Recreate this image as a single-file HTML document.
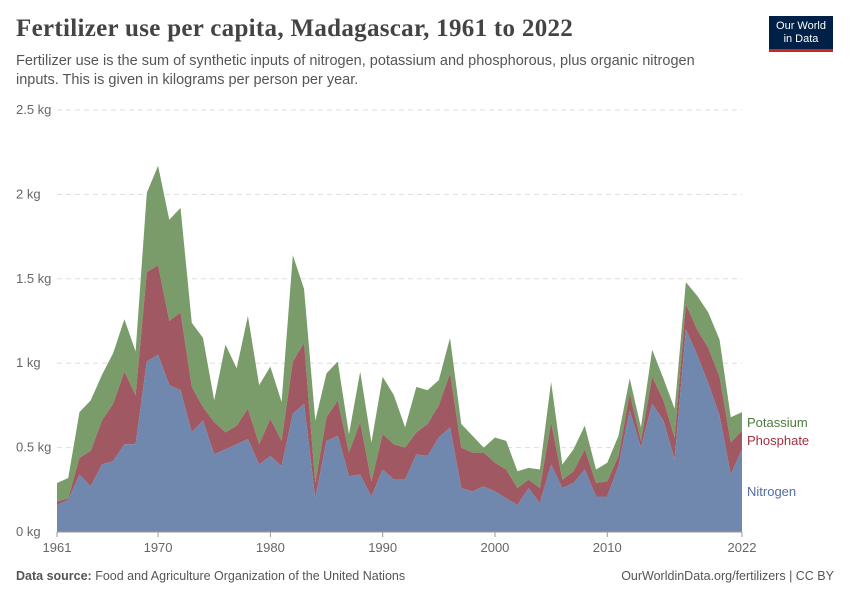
<!DOCTYPE html>
<html><head><meta charset="utf-8"><style>
body{margin:0;background:#fff;font-family:"Liberation Sans",sans-serif;}
#wrap{position:relative;width:850px;height:600px;overflow:hidden;}
h1{position:absolute;left:16px;top:15px;margin:0;font:700 25px "Liberation Serif",serif;color:#444;letter-spacing:0.3px;}
.sub{position:absolute;left:16px;top:52px;font-size:14.5px;line-height:19px;color:#555;width:720px;}
.logo{position:absolute;left:769px;top:16px;width:64px;height:36px;background:#002147;color:#fff;font-size:11px;line-height:13px;text-align:center;padding-top:4px;box-sizing:border-box;border-bottom:3px solid #ce261e;}
.foot{position:absolute;top:569px;font-size:12.5px;color:#555;}
</style></head><body><div id="wrap">
<h1>Fertilizer use per capita, Madagascar, 1961 to 2022</h1>
<div class="sub">Fertilizer use is the sum of synthetic inputs of nitrogen, potassium and phosphorous, plus organic nitrogen inputs. This is given in kilograms per person per year.</div>
<div class="logo">Our World<br>in Data</div>
<svg id="chart" width="850" height="600" style="position:absolute;left:0;top:0"></svg>
<div class="foot" style="left:16px"><b>Data source:</b> Food and Agriculture Organization of the United Nations</div>
<div class="foot" style="right:16px">OurWorldinData.org/fertilizers | CC BY</div>
</div>
<script>
const years=[];for(let y=1961;y<=2022;y++)years.push(y);
const nitrogen=[0.16,0.19,0.34,0.27,0.40,0.42,0.52,0.52,1.01,1.05,0.87,0.84,0.59,0.66,0.46,0.49,0.52,0.55,0.40,0.45,0.39,0.70,0.76,0.20,0.54,0.57,0.33,0.34,0.21,0.37,0.31,0.31,0.46,0.45,0.56,0.62,0.26,0.24,0.27,0.24,0.20,0.16,0.26,0.17,0.40,0.26,0.29,0.37,0.21,0.21,0.39,0.72,0.50,0.76,0.66,0.43,1.20,1.05,0.88,0.69,0.34,0.49];
const phosphate=[0.02,0.01,0.10,0.21,0.26,0.34,0.43,0.29,0.53,0.53,0.38,0.46,0.27,0.08,0.19,0.10,0.11,0.18,0.12,0.22,0.15,0.31,0.36,0.09,0.14,0.21,0.14,0.31,0.09,0.21,0.21,0.19,0.13,0.19,0.19,0.32,0.24,0.23,0.20,0.17,0.17,0.10,0.05,0.09,0.25,0.05,0.07,0.12,0.08,0.09,0.06,0.10,0.04,0.16,0.12,0.13,0.15,0.15,0.21,0.23,0.19,0.11];
const potassium=[0.11,0.12,0.27,0.30,0.27,0.30,0.31,0.26,0.47,0.59,0.60,0.62,0.38,0.41,0.13,0.52,0.34,0.55,0.35,0.31,0.23,0.63,0.32,0.37,0.26,0.23,0.11,0.30,0.23,0.34,0.29,0.12,0.27,0.20,0.15,0.21,0.14,0.10,0.03,0.15,0.17,0.10,0.07,0.11,0.24,0.09,0.13,0.14,0.08,0.11,0.12,0.09,0.08,0.16,0.13,0.17,0.13,0.20,0.21,0.22,0.15,0.11];
const yTicks=[0,0.5,1,1.5,2,2.5];
const yTickLabels=["0 kg","0.5 kg","1 kg","1.5 kg","2 kg","2.5 kg"];
const xTicks=[1961,1970,1980,1990,2000,2010,2022];
const X0=57,X1=742,Y0=532,Y1=110;
const xs=y=>X0+(y-1961)/(2022-1961)*(X1-X0);
const ys=v=>Y0-v/2.5*(Y0-Y1);
const svg=document.getElementById('chart');const NS='http://www.w3.org/2000/svg';
function mk(t,a){const e=document.createElementNS(NS,t);for(const k in a)e.setAttribute(k,a[k]);svg.appendChild(e);return e;}
yTicks.forEach((v,i)=>{
 if(v>0){const l=mk('line',{x1:X0,x2:X1,y1:ys(v),y2:ys(v),stroke:'#ddd','stroke-dasharray':'5,4'});
 
 }
 const t=mk('text',{x:16,y:ys(v)+4,'font-size':13,fill:'#666','font-family':'Liberation Sans'});t.textContent=yTickLabels[i];
 
 
});
const c1=nitrogen,c2=nitrogen.map((v,i)=>v+phosphate[i]),c3=c2.map((v,i)=>v+potassium[i]);
function area(top,bot,fill,name){
 let d='M'+years.map((y,i)=>xs(y)+','+ys(top[i])).join('L');
 for(let i=years.length-1;i>=0;i--)d+='L'+xs(years[i])+','+ys(bot?bot[i]:0);
 const p=mk('path',{d:d+'Z',fill:fill});
 
 
}
area(c3,c2,'#7a9c6b','area-potassium');
area(c2,c1,'#a05962','area-phosphate');
area(c1,null,'#7087ae','area-nitrogen');
const ax=mk('line',{x1:X0,x2:X1,y1:Y0,y2:Y0,stroke:'#999'});


xTicks.forEach(y=>{
 const l=mk('line',{x1:xs(y),x2:xs(y),y1:Y0,y2:Y0+5,stroke:'#999'});
 
 
 const t=mk('text',{x:xs(y),y:Y0+20,'font-size':13,fill:'#666','text-anchor':'middle','font-family':'Liberation Sans'});t.textContent=y;
 
 
});
[['Potassium',427,'#4c7a3c'],['Phosphate',445,'#a2303f'],['Nitrogen',496,'#4e6ea8']].forEach(([n,y,c])=>{
 const t=mk('text',{x:747,y:y,'font-size':13,fill:c,'font-family':'Liberation Sans'});t.textContent=n;
 
 
});
</script></body></html>
